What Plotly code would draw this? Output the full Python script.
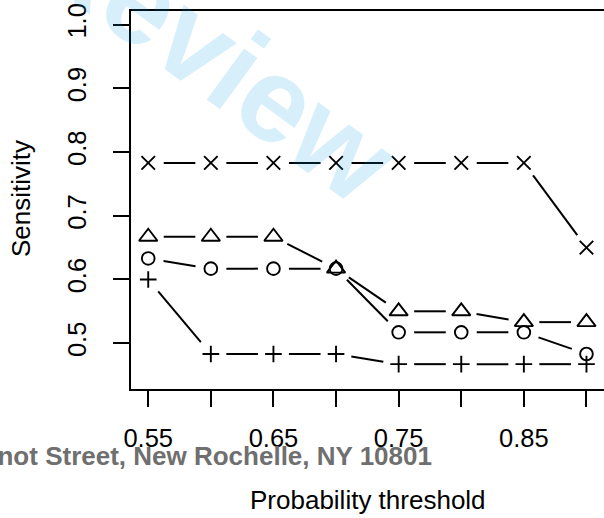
import math
import plotly.graph_objects as go

# Probability thresholds and sensitivity of the four classifiers
thresholds = [0.55, 0.60, 0.65, 0.70, 0.75, 0.80, 0.85, 0.90]
sens_cross = [0.783, 0.783, 0.783, 0.783, 0.783, 0.783, 0.783, 0.650]
sens_triangle = [0.667, 0.667, 0.667, 0.617, 0.550, 0.550, 0.533, 0.533]
sens_circle = [0.633, 0.617, 0.617, 0.617, 0.517, 0.517, 0.517, 0.483]
sens_plus = [0.600, 0.483, 0.483, 0.483, 0.467, 0.467, 0.467, 0.467]

x_tick_vals = [0.55, 0.60, 0.65, 0.70, 0.75, 0.80, 0.85, 0.90]
x_tick_text = ["0.55", "", "0.65", "", "0.75", "", "0.85", ""]
y_tick_vals = [0.5, 0.6, 0.7, 0.8, 0.9, 1.0]
y_tick_text = ["0.5", "0.6", "0.7", "0.8", "0.9", "1.0"]

W, H = 604, 518
PLOT_L, PLOT_R, PLOT_T, PLOT_B = 130.7, 604.0, 10.7, 389.0
FONT = "Liberation Sans, Arial, Helvetica, sans-serif"


def padded(lo, hi, frac=0.04):
    ext = (hi - lo) * frac
    return [lo - ext, hi + ext]


XR = padded(0.55, 0.90)
YR = padded(0.45, 1.00)

# pixels per data unit, used to leave a gap round each point (type "b" lines)
SX = (PLOT_R - PLOT_L) / (XR[1] - XR[0])
SY = (PLOT_B - PLOT_T) / (YR[1] - YR[0])
GAP = 15.5


def gapped(xs, ys):
    gx, gy = [], []
    for x0, y0, x1, y1 in zip(xs, ys, xs[1:], ys[1:]):
        length = math.hypot((x1 - x0) * SX, (y1 - y0) * SY)
        if length <= 2 * GAP:
            continue
        f = GAP / length
        gx += [x0 + (x1 - x0) * f, x1 - (x1 - x0) * f, None]
        gy += [y0 + (y1 - y0) * f, y1 - (y1 - y0) * f, None]
    return gx, gy


series = [
    (sens_cross, "x-thin-open", 13.5),
    (sens_triangle, "triangle-up-open", 16),
    (sens_circle, "circle-open", 12.7),
    (sens_plus, "cross-thin-open", 11.9),
]

fig = go.Figure()
for ys, symbol, size in series:
    lx, ly = gapped(thresholds, ys)
    fig.add_trace(go.Scatter(x=lx, y=ly, mode="lines",
                             line=dict(color="black", width=2),
                             hoverinfo="skip", cliponaxis=False))
    fig.add_trace(go.Scatter(x=thresholds, y=ys, mode="markers",
                             marker=dict(symbol=symbol, size=size, color="black",
                                         line=dict(color="black", width=1.9)),
                             cliponaxis=False))


def px(x):
    return x / W


def py(y):
    return 1 - y / H


fig.update_layout(
    width=W, height=H,
    margin=dict(l=0, r=0, t=0, b=0, autoexpand=False),
    paper_bgcolor="white", plot_bgcolor="white",
    showlegend=False,
    font=dict(family=FONT, color="black", size=25),
    xaxis=dict(
        domain=[px(PLOT_L), px(PLOT_R)], range=XR, automargin=False,
        tickmode="array", tickvals=x_tick_vals, ticktext=x_tick_text,
        ticks="outside", ticklen=16, tickwidth=2, tickcolor="black",
        showline=True, linewidth=2, linecolor="black", mirror=True,
        showgrid=False, zeroline=False,
        tickfont=dict(size=25.5), ticklabelstandoff=9,
    ),
    yaxis=dict(
        domain=[py(PLOT_B), py(PLOT_T)], range=YR, automargin=False,
        tickmode="array", tickvals=y_tick_vals, ticktext=y_tick_text,
        ticks="outside", ticklen=16, tickwidth=2, tickcolor="black",
        showline=True, linewidth=2, linecolor="black",
        showgrid=False, zeroline=False,
        tickangle=-90, tickfont=dict(size=25.5), ticklabelstandoff=17,
    ),
    annotations=[
        dict(text="Sensitivity", x=px(21), y=py(199), xref="paper", yref="paper",
             showarrow=False, textangle=-90, xanchor="center", yanchor="middle",
             font=dict(size=26, family=FONT, color="black")),
        dict(text="Probability threshold", x=px(367.5), y=py(500), xref="paper", yref="paper",
             showarrow=False, xanchor="center", yanchor="middle",
             font=dict(size=26, family=FONT, color="black")),
        dict(text="<b>140 Huguenot Street, New Rochelle, NY 10801</b>",
             x=px(434), y=py(456), xref="paper", yref="paper",
             showarrow=False, xanchor="right", yanchor="middle",
             font=dict(size=26, family=FONT, color="#6f6f6f")),
        dict(text="<b>Review</b>", x=px(214), y=py(53), xref="paper", yref="paper",
             showarrow=False, textangle=36, xanchor="center", yanchor="middle",
             font=dict(size=120, family=FONT, color="rgba(0,155,230,0.16)")),
    ],
)

fig.write_html("out.html")
